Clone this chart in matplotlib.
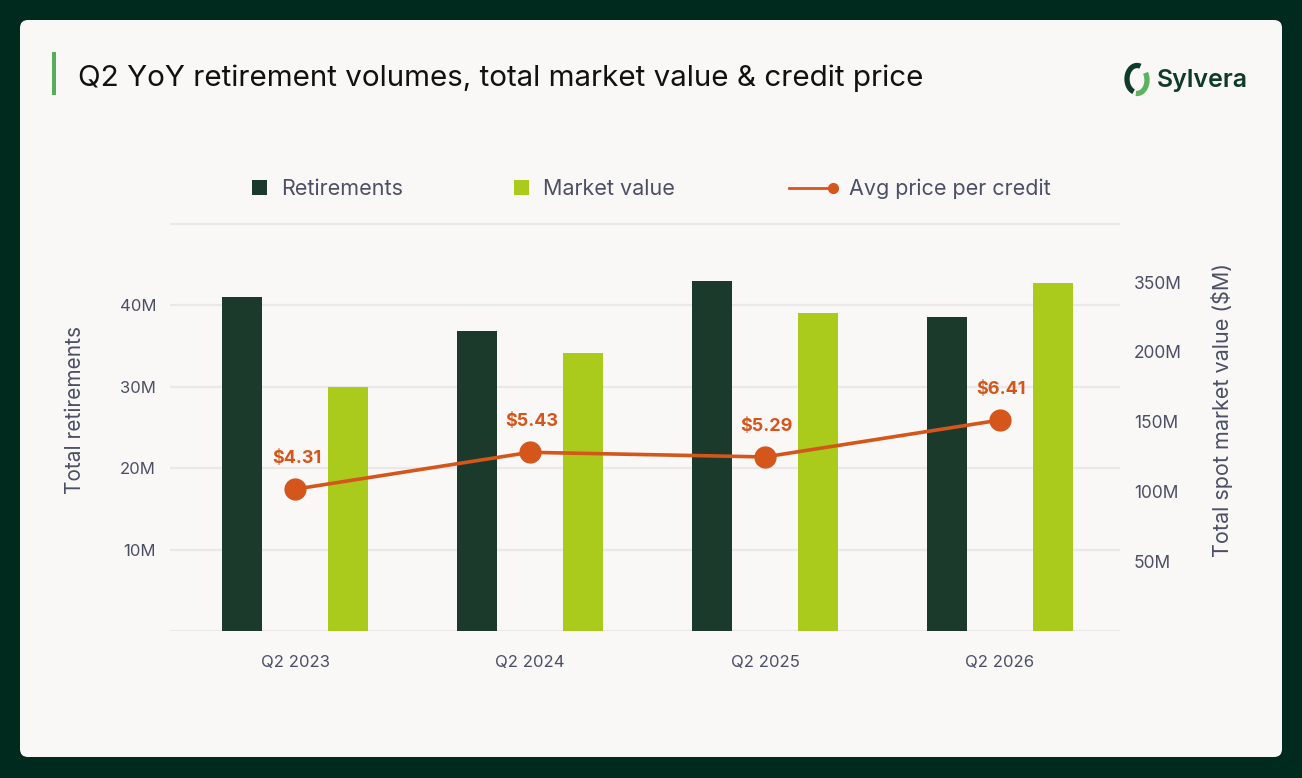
import matplotlib
matplotlib.use("Agg")
import matplotlib.pyplot as plt
import numpy as np
from matplotlib.patches import FancyBboxPatch, Rectangle, Patch, Arc
from matplotlib.lines import Line2D
from matplotlib.legend_handler import HandlerBase
import matplotlib.transforms as mtransforms

# ---------------- data ----------------
categories = ["Q2 2023", "Q2 2024", "Q2 2025", "Q2 2026"]
retirements_m = [41.0, 36.8, 42.9, 38.5]          # millions of credits
market_value_m = [175, 199, 228, 249]             # $M (as drawn)
avg_price = [4.31, 5.43, 5.29, 6.41]              # $ per credit
price_labels = ["$4.31", "$5.43", "$5.29", "$6.41"]
left_ticks = [0, 10, 20, 30, 40, 50]
left_tick_labels = ["", "10M", "20M", "30M", "40M", ""]
right_ticks = [50, 100, 150, 200, 250]
right_tick_labels = ["50M", "100M", "150M", "200M", "350M"]

# ---------------- style ----------------
W, H = 1302, 778
OUTER = "#012a1f"
CARD = "#faf7f7"
DARK = "#1b3a2c"
LIME = "#abcb1c"
ORANGE = "#d4561b"
GRAY = "#4b5064"
GRID = "#ebe8e8"
FONT = ["Inter", "DejaVu Sans"]
plt.rcParams["font.family"] = FONT

fig = plt.figure(figsize=(W / 100, H / 100), dpi=100)
fig.patch.set_facecolor(OUTER)

# pixel transform (origin top-left)
T = mtransforms.Affine2D().scale(1 / W, -1 / H).translate(0, 1) + fig.transFigure

card = FancyBboxPatch((20, 20), 1262, 737, boxstyle="round,pad=0,rounding_size=8",
                      transform=T, facecolor=CARD, edgecolor="none", zorder=-10)
fig.patches.append(card)

# title bar + title
fig.patches.append(Rectangle((52, 52), 3.5, 43, transform=T, facecolor="#57ad5c",
                             edgecolor="none", zorder=1))
fig.text(78 / W, 1 - 78 / H, "Q2 YoY retirement volumes, total market value & credit price",
         fontsize=21.3, color="#111111", ha="left", va="center")

# logo
fig.text(1157 / W, 1 - 80 / H, "Sylvera", fontsize=18, color="#0e3b2b",
         fontweight="semibold", ha="left", va="center")
lax = fig.add_axes([1122 / W, 1 - 97 / H, 30 / W, 36 / H])
lax.set_xlim(0, 30)
lax.set_ylim(0, 36)
lax.axis("off")
lax.add_patch(Arc((15, 18), 20, 27, theta1=75, theta2=255, lw=3.8, color="#0e3b2b"))
lax.add_patch(Arc((15, 17), 20, 27, theta1=-95, theta2=40, lw=3.8, color="#5bb35e"))

# ---------------- axes ----------------
x0, x1, ytop, ybot = 170, 1120, 222, 631
ax = fig.add_axes([x0 / W, 1 - ybot / H, (x1 - x0) / W, (ybot - ytop) / H])
ax.set_facecolor("none")
ax2 = ax.twinx()
ax3 = ax.twinx()

x = np.arange(len(categories))
bw = 0.17
off = 0.2255

ax.bar(x - off, retirements_m, width=bw, color=DARK, zorder=3)
ax2.bar(x + off, market_value_m, width=bw, color=LIME, zorder=3)
ax3.plot(x, avg_price, color=ORANGE, lw=2.6, marker="o", ms=15, zorder=5)
for xi, p, lab in zip(x, avg_price, price_labels):
    ax3.annotate(lab, (xi, p), xytext=(1, 22), textcoords="offset points",
                 ha="center", va="center", fontsize=13, fontweight="bold", color=ORANGE)

ax.set_xlim(-0.532, 3.511)
ax.set_ylim(0, 50.2)
ax2.set_ylim(0, 293)
ax3.set_ylim(0, 12.43)

ax.set_yticks(left_ticks)
ax.set_yticklabels(left_tick_labels)
ax.grid(axis="y", color=GRID, lw=1.6, zorder=0)
ax.set_axisbelow(True)
ax.set_xticks(x)
ax.set_xticklabels(categories)

ax2.set_yticks(right_ticks)
ax2.set_yticklabels(right_tick_labels)
ax3.set_yticks([])

for a in (ax, ax2, ax3):
    for s in a.spines.values():
        s.set_visible(False)
    a.tick_params(length=0, colors=GRAY, labelsize=12)
ax.tick_params(axis="y", pad=10)
ax.tick_params(axis="x", pad=17)
ax2.tick_params(axis="y", pad=10, labelsize=12.5)

fig.text(75 / W, 1 - 410 / H, "Total retirements", rotation=90, fontsize=15,
         color=GRAY, ha="center", va="center")
fig.text(1222 / W, 1 - 410 / H, "Total spot market value ($M)", rotation=90, fontsize=15.5,
         color=GRAY, ha="center", va="center")


# ---------------- legend ----------------
class EndDot(HandlerBase):
    def create_artists(self, legend, orig_handle, xdescent, ydescent, width, height,
                       fontsize, trans):
        y = height / 2 - ydescent
        xa, xb = -xdescent, width - xdescent
        ln = Line2D([xa, xb], [y, y], color=orig_handle.get_color(),
                    lw=orig_handle.get_linewidth(), transform=trans)
        dot = Line2D([xb], [y], marker="o", ms=orig_handle.get_markersize(),
                     color=orig_handle.get_color(), linestyle="none", transform=trans)
        return [ln, dot]


fs = 15.5
em = fs * 100 / 72
ly = 1 - 189 / H
h1 = Patch(facecolor=DARK, edgecolor="none")
h2 = Patch(facecolor=LIME, edgecolor="none")
h3 = Line2D([], [], color=ORANGE, lw=2, ms=7)
common = dict(frameon=False, loc="center left", borderpad=0, borderaxespad=0,
              prop={"size": fs, "family": FONT}, labelcolor=GRAY)
fig.legend([h1], ["Retirements"], bbox_to_anchor=(252 / W, ly), handlelength=15 / em,
           handleheight=15 / em, handletextpad=14 / em, **common)
fig.legend([h2], ["Market value"], bbox_to_anchor=(514 / W, ly), handlelength=15 / em,
           handleheight=15 / em, handletextpad=14 / em, **common)
fig.legend([h3], ["Avg price per credit"], bbox_to_anchor=(789 / W, ly),
           handlelength=44 / em, handletextpad=16 / em, handler_map={h3: EndDot()}, **common)

fig.savefig("out.png", dpi=100, facecolor=OUTER)
